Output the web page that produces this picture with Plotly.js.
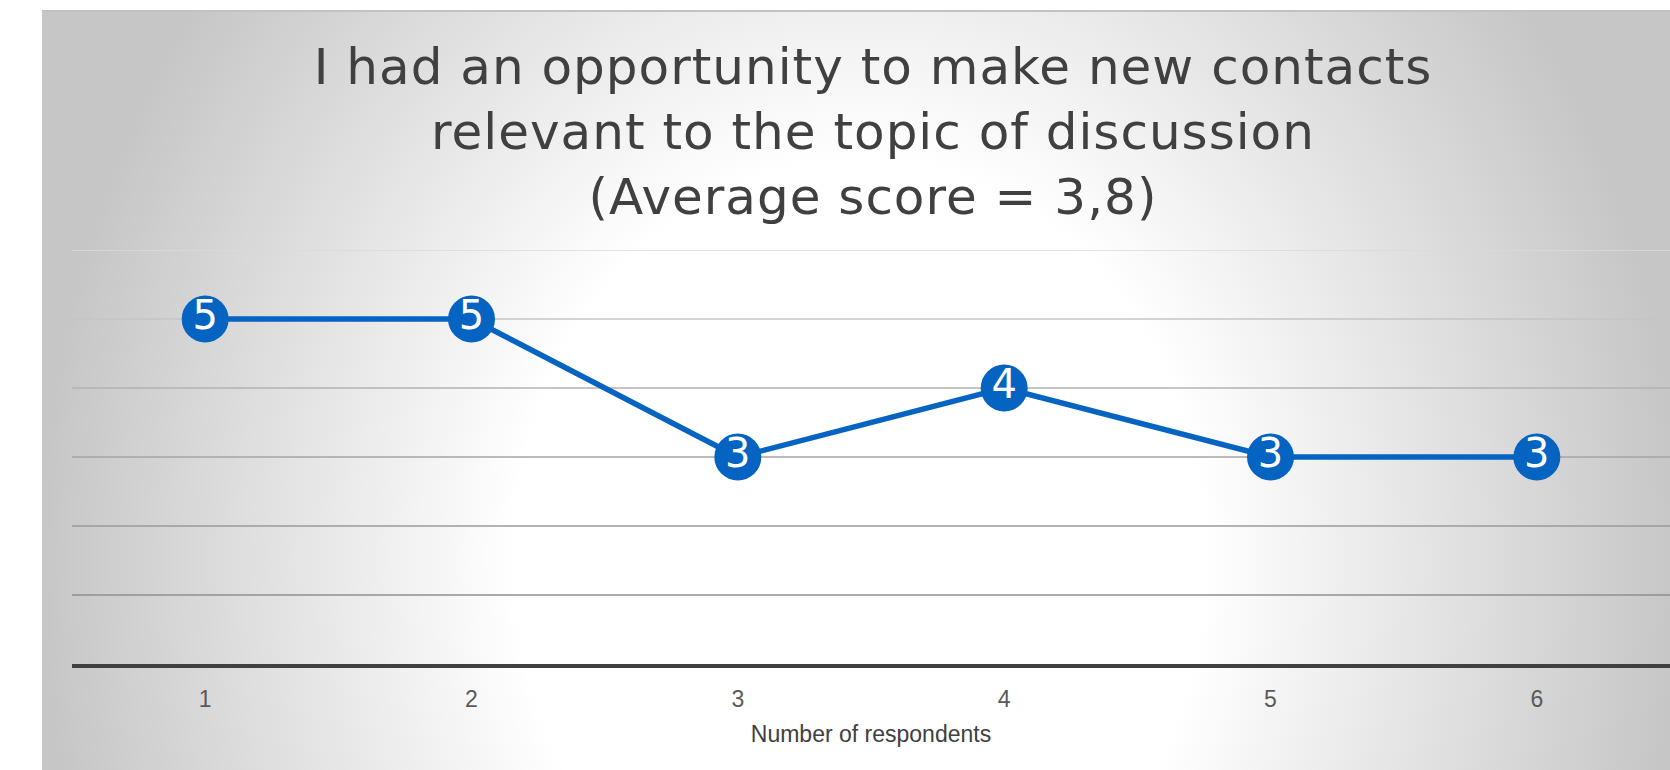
<!DOCTYPE html>
<html><head><meta charset="utf-8">
<script src="https://cdn.plot.ly/plotly-3.0.1.min.js"></script>
<style>html,body{margin:0;padding:0;background:#fff}#chart{width:1670px;height:770px}
#chart .gtitle{letter-spacing:1px}</style>
</head><body><div id="chart"></div>
<script>
// ---- data ----
const respondents = ['1', '2', '3', '4', '5', '6'];
const scores = [5, 5, 3, 4, 3, 3];
const gridValues = [1, 2, 3, 4, 5, 6];
const titleLines = ['I had an opportunity to make new contacts', 'relevant to the topic of discussion', '(Average score = 3,8)'];
const xAxisTitle = 'Number of respondents';

// ---- layout / style ----
const W = 1670, H = 770;
const panel = {left: 42, top: 11};
const plotBox = {left: 72, right: 1670, top: 250, bottom: 664};
const gridColors = ['#8f8f8f', '#9a9a9a', '#a4a4a4', '#b2b2b2', '#c4c4c4', '#dadada'];
const glow = {cx: 860, cy: 560, rx: 820, ry: 950};
const blue = '#0563C1';
const titleFont = 'DejaVu Sans';

const bgTrace = {
  x: [glow.cx - glow.rx, glow.cx + glow.rx, glow.cx + glow.rx, glow.cx - glow.rx, glow.cx - glow.rx],
  y: [glow.cy - glow.ry, glow.cy - glow.ry, glow.cy + glow.ry, glow.cy + glow.ry, glow.cy - glow.ry],
  xaxis: 'x', yaxis: 'y', mode: 'lines', line: {width: 0, color: 'rgba(0,0,0,0)'},
  fill: 'toself', fillcolor: '#e4e4e4',
  fillgradient: {type: 'radial', colorscale: [[0, '#ffffff'], [0.42, '#ffffff'], [1, '#c6c6c6']]},
  hoverinfo: 'skip', showlegend: false
};

const dataTrace = {
  x: respondents, y: scores, xaxis: 'x2', yaxis: 'y2',
  mode: 'lines+markers+text',
  text: scores.map(String), textposition: 'middle center',
  textfont: {family: titleFont, size: 40, color: '#ffffff'},
  line: {color: blue, width: 5.5},
  marker: {size: 47, color: blue, line: {width: 0}},
  cliponaxis: false, showlegend: false, hoverinfo: 'x+y'
};

const nCat = respondents.length;
const shapes = gridValues.map((v, i) => ({
  type: 'line', xref: 'x2', x0: -0.5, x1: nCat - 0.5, yref: 'y2', y0: v, y1: v,
  line: {color: gridColors[i], width: 1.5}, layer: 'below'
}));
shapes.push({type: 'line', xref: 'paper', yref: 'paper', x0: panel.left / W, x1: 1,
  y0: 1 - panel.top / H, y1: 1 - panel.top / H, line: {color: '#c2c2c2', width: 2}, layer: 'above'});

const layout = {
  width: W, height: H,
  margin: {l: 0, r: 0, t: 0, b: 0, pad: 0},
  paper_bgcolor: '#ffffff', plot_bgcolor: 'rgba(0,0,0,0)',
  showlegend: false,
  title: {
    text: titleLines.join('<br>'),
    font: {family: titleFont, size: 50, color: '#404040'},
    x: 873 / W, xref: 'container', xanchor: 'center',
    y: 1 - 84 / H, yref: 'container', yanchor: 'top'
  },
  xaxis: {domain: [panel.left / W, 1], range: [panel.left, W], visible: false, fixedrange: true},
  yaxis: {domain: [0, 1 - panel.top / H], range: [H, panel.top], visible: false, fixedrange: true},
  xaxis2: {
    domain: [plotBox.left / W, plotBox.right / W], anchor: 'y2', type: 'category', range: [-0.5, nCat - 0.5],
    showgrid: false, zeroline: false, showline: true, linecolor: '#404040', linewidth: 4,
    ticks: '', ticklabelstandoff: 11,
    tickfont: {family: 'Liberation Sans, Arial, sans-serif', size: 23, color: '#595959'},
    title: {text: xAxisTitle, font: {family: 'Liberation Sans, Arial, sans-serif', size: 23, color: '#404040'}, standoff: 16},
    fixedrange: true
  },
  yaxis2: {
    domain: [(H - plotBox.bottom) / H, (H - plotBox.top) / H], anchor: 'x2', range: [0, 6],
    showgrid: false, zeroline: false, showline: false, showticklabels: false, ticks: '', fixedrange: true
  },
  shapes: shapes
};

Plotly.newPlot('chart', [bgTrace, dataTrace], layout, {displayModeBar: false, staticPlot: true});
</script>
</body></html>
